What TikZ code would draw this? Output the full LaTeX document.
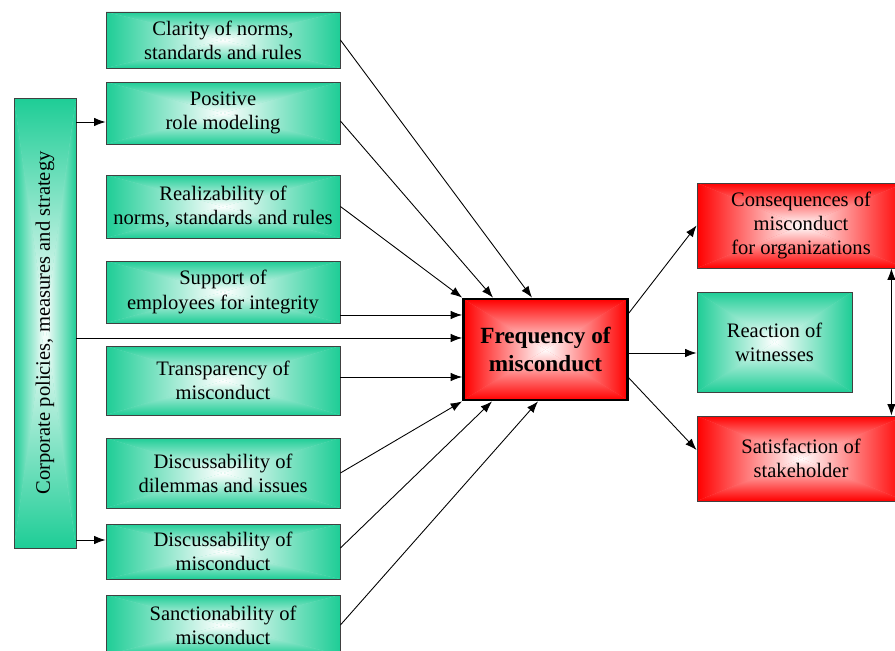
\documentclass[tikz,border=0pt]{standalone}
\usepackage{fontspec}
\setmainfont{Liberation Serif}
\usetikzlibrary{positioning, arrows.meta}

\definecolor{boxgreen}{RGB}{30,205,150}
\definecolor{boxred}{RGB}{255,0,0}

% rectangular gradient: white centre, coloured edges (four shaded triangles)
\tikzset{
  pyramid/.style={fill=#1!55!white, path picture={
      \path (path picture bounding box.center) coordinate (pc)
            (path picture bounding box.north west) coordinate (pnw)
            (path picture bounding box.north east) coordinate (pne)
            (path picture bounding box.south west) coordinate (psw)
            (path picture bounding box.south east) coordinate (pse);
      \shade [top color=#1, middle color=#1!55!white, bottom color=white] (pnw) -- (pne) -- (pc) -- cycle;
      \shade [bottom color=#1, middle color=#1!55!white, top color=white] (psw) -- (pse) -- (pc) -- cycle;
      \shade [left color=#1, middle color=#1!55!white, right color=white] (pnw) -- (psw) -- (pc) -- cycle;
      \shade [right color=#1, middle color=#1!55!white, left color=white] (pne) -- (pse) -- (pc) -- cycle;
  }}
}

\begin{document}
\begin{tikzpicture}[->, >={Latex[length=2.3mm, width=1.7mm]}, x=0.02cm, y=-0.02cm, line width=0.5pt,
    every node/.style={align=center, inner sep=0pt, font=\fontsize{11.7}{13.7}\selectfont},
    factor/.style={draw=black!75, pyramid=boxgreen, minimum width=4.68cm},
    effect/.style={draw=black!75, pyramid=boxred}]

    \useasboundingbox (0,0) rectangle (895,651);

    % influencing factors
    \node [factor, minimum height=1.12cm] (clar) at (223,40) {Clarity of norms,\\ standards and rules};
    \node [factor, minimum height=1.24cm] (pos) at (223,113) {Positive\\ role modeling};
    \node [factor, minimum height=1.26cm] (real) at (223,206.5) {Realizability of\\ norms, standards and rules};
    \node [factor, minimum height=1.24cm] (supp) at (223,292) {Support of\\ employees for integrity};
    \node [factor, minimum height=1.38cm] (trans) at (223,380.5) {Transparency of\\ misconduct};
    \node [factor, minimum height=1.4cm] (dil) at (223,473) {Discussability of\\ dilemmas and issues};
    \node [factor, minimum height=1.1cm] (dmis) at (223,551.5) {Discussability of\\ misconduct};
    \node [factor, minimum height=1.2cm] (sanc) at (223,625) {Sanctionability of\\ misconduct};

    \node [factor, minimum width=1.24cm, minimum height=9cm] (corp) at (45,323)
        {\rotatebox{90}{Corporate policies, measures and strategy}};

    % centre and consequences
    \node [effect, draw=black, line width=1.6pt, minimum width=3.28cm, minimum height=2.02cm,
        font=\fontsize{13.2}{15.9}\selectfont\bfseries] (freq) at (545.5,349.5) {Frequency of\\ misconduct};

    \node [effect, minimum width=4.16cm, minimum height=1.7cm] (cons) at (801,225.5)
        {Consequences of\\ misconduct\\ for organizations};
    \node [factor, minimum width=3.1cm, minimum height=2cm] (react) at (774.5,342) {Reaction of\\ witnesses};
    \node [effect, minimum width=4.16cm, minimum height=1.7cm] (sat) at (801,458.5) {Satisfaction of\\ stakeholder};

    % policies
    \coordinate (t2) at ([yshift=-0.18cm]pos.west);
    \coordinate (t7) at ([yshift=0.23cm]dmis.west);
    \coordinate (s0) at ([yshift=-0.3cm]corp.east);
    \draw (corp.east |- t2) -- (t2);
    \draw (corp.east |- t7) -- (t7);
    \draw (s0) -- (s0 -| freq.west);

    % factors into frequency
    \coordinate (s4) at ([yshift=-0.46cm]supp.east);
    \coordinate (s5) at ([yshift=0.07cm]trans.east);
    \draw (clar.east) -- ([xshift=-0.27cm]freq.north);
    \draw ([yshift=-0.16cm]pos.east) -- ([xshift=-1.05cm]freq.north);
    \draw (real.east) -- (freq.north west);
    \draw (s4) -- (s4 -| freq.west);
    \draw (s5) -- (s5 -| freq.west);
    \draw (dil.east) -- (freq.south west);
    \draw ([yshift=0.07cm]dmis.east) -- ([xshift=-1.07cm]freq.south);
    \draw (sanc.east) -- ([xshift=-0.15cm]freq.south);

    % frequency out
    \coordinate (s6) at ([yshift=-0.07cm]freq.east);
    \draw ([yshift=0.73cm]freq.east) -- (cons.west);
    \draw (s6) -- (s6 -| react.west);
    \draw ([yshift=-0.57cm]freq.east) -- ([yshift=0.17cm]sat.west);
    \draw [<->] ([xshift=-0.28cm]cons.south east) -- ([xshift=-0.28cm]sat.north east);

\end{tikzpicture}
\end{document}
